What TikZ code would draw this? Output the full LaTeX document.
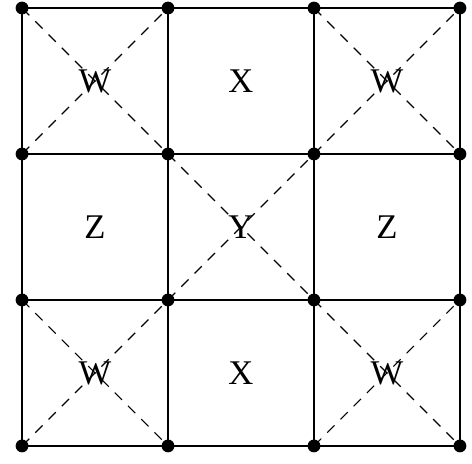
\documentclass[tikz,border=0pt]{standalone}
\usepackage{fontspec}
\setmainfont{Liberation Serif}
\tikzset{
  pt/.style={circle,fill=black,inner sep=0pt,minimum size=5pt},
  lbl/.style={font=\fontsize{13.5}{15}\selectfont},
  gridline/.style={line width=1pt},
  diag/.style={line width=0.45pt,dash pattern=on 4pt off 3.3pt}
}
\begin{document}
\begin{tikzpicture}
\useasboundingbox (-0.302,-0.234) rectangle (6.165,6.11);
% grid points
\foreach \i in {0,...,3}
  \foreach \j in {0,...,3}
    \coordinate (c\i\j) at (2*\i,2*\j);
% diagonals
\foreach \a/\b/\c/\d in {0/2/1/3, 2/2/3/3, 1/1/2/2, 0/0/1/1, 2/0/3/1} {
  \draw[diag] (c\a\b) -- (c\c\d);
  \draw[diag] (c\a\d) -- (c\c\b);
}
% labels
\node[lbl] (w1) at (1,5) {W};
\node[lbl] (x1) at (3,5) {X};
\node[lbl] (w2) at (5,5) {W};
\node[lbl] (z1) at (1,3) {Z};
\node[lbl] (y) at (3,3) {Y};
\node[lbl] (z2) at (5,3) {Z};
\node[lbl] (w3) at (1,1) {W};
\node[lbl] (x2) at (3,1) {X};
\node[lbl] (w4) at (5,1) {W};
% grid
\foreach \k in {0,...,3} {
  \draw[gridline] (c0\k) -- (c3\k);
  \draw[gridline] (c\k0) -- (c\k3);
}
% dots
\foreach \i in {0,...,3}
  \foreach \j in {0,...,3}
    \node[pt] (p\i\j) at (c\i\j) {};
\end{tikzpicture}
\end{document}
